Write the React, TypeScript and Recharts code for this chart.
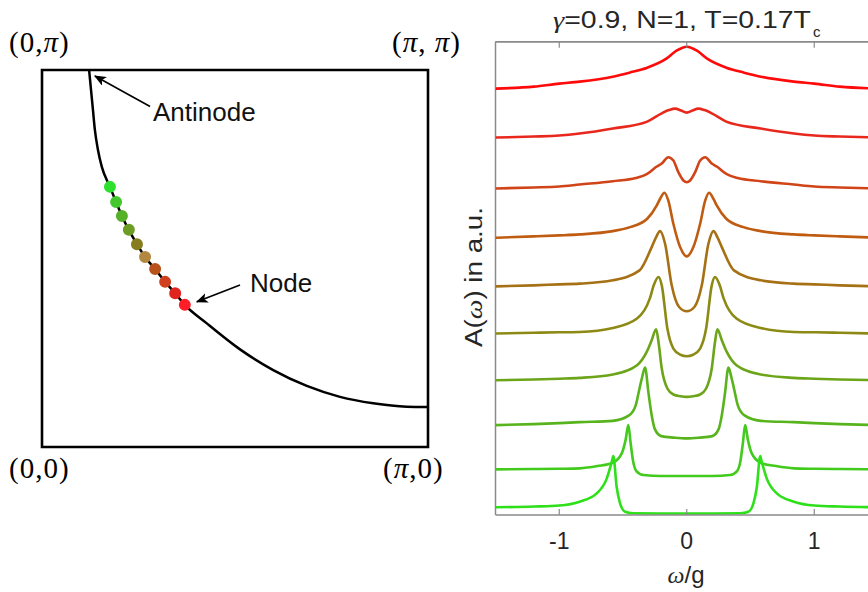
import React from "react"
import {
  ComposedChart,
  LineChart,
  Line,
  Scatter,
  Cell,
  XAxis,
  YAxis,
  ZAxis,
  ReferenceArea,
  ReferenceLine,
} from "recharts"

// Fermi surface arc in the first quadrant, (kx, ky) in units of pi
const fermiArc: [number, number][] = [
  [0.122, 1.0], [0.127, 0.947], [0.132, 0.894], [0.137, 0.841], [0.145, 0.788],
  [0.155, 0.743], [0.176, 0.69], [0.192, 0.65], [0.207, 0.613], [0.225, 0.576],
  [0.246, 0.538], [0.267, 0.504], [0.293, 0.472], [0.319, 0.438], [0.345, 0.408],
  [0.37, 0.377], [0.427, 0.328], [0.513, 0.259], [0.599, 0.204], [0.686, 0.162],
  [0.772, 0.133], [0.858, 0.116], [0.945, 0.107], [1.0, 0.106],
]

// k points where the spectra are taken, antinode side -> node
const kPoints: [number, number][] = [
  [0.176, 0.69], [0.192, 0.65], [0.207, 0.613], [0.225, 0.576], [0.246, 0.538],
  [0.267, 0.504], [0.293, 0.472], [0.319, 0.438], [0.345, 0.408], [0.37, 0.377],
]

// spectra A(w), stacked, top (node) -> bottom (antinode); [w/g, A]
const spec1: [number, number][] = [
  [-1.5, 427], [-1.2, 429], [-1.0, 432], [-0.84, 434], [-0.58, 439], [-0.45, 443], [-0.31, 448],
  [-0.16, 457], [-0.08, 465], [0, 469], [0.08, 465], [0.16, 457], [0.31, 448], [0.45, 443],
  [0.58, 439], [0.84, 434], [1.0, 432], [1.2, 429], [1.5, 427],
]
const spec2: [number, number][] = [
  [-1.5, 378], [-1.2, 379], [-1.0, 380], [-0.84, 382], [-0.58, 387], [-0.31, 394], [-0.2, 402],
  [-0.14, 405.5], [-0.09, 407], [-0.045, 405], [0, 403], [0.045, 405], [0.09, 407], [0.14, 405.5],
  [0.2, 402], [0.31, 394], [0.58, 387], [0.84, 382], [1.0, 380], [1.2, 379], [1.5, 378],
]
const spec3: [number, number][] = [
  [-1.5, 327], [-1.2, 328], [-1.0, 329], [-0.84, 331], [-0.58, 334.3], [-0.4, 337.5], [-0.31, 341.7],
  [-0.235, 349], [-0.196, 352], [-0.145, 358.3], [-0.105, 355], [-0.066, 343.3], [-0.026, 335],
  [0, 333.3], [0.026, 335], [0.066, 343.3], [0.105, 355], [0.145, 358.3], [0.196, 352],
  [0.235, 349], [0.31, 341.7], [0.4, 337.5], [0.58, 334.3], [0.84, 331], [1.0, 329], [1.2, 328], [1.5, 327],
]
const spec4: [number, number][] = [
  [-1.5, 277.7], [-1.2, 279], [-1.0, 280], [-0.84, 281], [-0.58, 284.3], [-0.445, 288.3], [-0.31, 296.7],
  [-0.235, 310], [-0.209, 316.7], [-0.175, 322.7], [-0.145, 315], [-0.105, 291.7], [-0.052, 268.3],
  [0, 259], [0.052, 268.3], [0.105, 291.7], [0.145, 315], [0.175, 322.7], [0.209, 316.7],
  [0.235, 310], [0.31, 296.7], [0.445, 288.3], [0.58, 284.3], [0.84, 281], [1.0, 280], [1.2, 279], [1.5, 277.7],
]
const spec5: [number, number][] = [
  [-1.5, 229], [-1.2, 230], [-1.0, 231], [-0.84, 231.7], [-0.58, 235], [-0.37, 245], [-0.275, 268.3],
  [-0.24, 278.3], [-0.21, 284.3], [-0.17, 271.7], [-0.118, 230], [-0.06, 208.3], [0, 204],
  [0.06, 208.3], [0.118, 230], [0.17, 271.7], [0.21, 284.3], [0.24, 278.3], [0.275, 268.3],
  [0.37, 245], [0.58, 235], [0.84, 231.7], [1.0, 231], [1.2, 230], [1.5, 229],
]
const spec6: [number, number][] = [
  [-1.5, 181.7], [-1.2, 182.5], [-1.0, 183], [-0.84, 183.3], [-0.58, 187.3], [-0.39, 196.7], [-0.29, 216.7],
  [-0.256, 231], [-0.222, 238.3], [-0.196, 230], [-0.152, 186.7], [-0.105, 166.7], [-0.05, 160.5],
  [0, 159], [0.05, 160.5], [0.105, 166.7], [0.152, 186.7], [0.196, 230], [0.222, 238.3],
  [0.256, 231], [0.29, 216.7], [0.39, 196.7], [0.58, 187.3], [0.84, 183.3], [1.0, 183], [1.2, 182.5], [1.5, 181.7],
]
const spec7: [number, number][] = [
  [-1.5, 135], [-1.2, 135.7], [-1.0, 136.5], [-0.84, 137.3], [-0.58, 140.7], [-0.39, 150], [-0.314, 163.3],
  [-0.275, 175], [-0.24, 186], [-0.22, 171.7], [-0.196, 146.7], [-0.152, 126.7], [-0.105, 120.7],
  [-0.05, 119], [0, 118.3], [0.05, 119], [0.105, 120.7], [0.152, 126.7], [0.196, 146.7], [0.22, 171.7],
  [0.24, 186], [0.275, 175], [0.314, 163.3], [0.39, 150], [0.58, 140.7], [0.84, 137.3], [1.0, 136.5],
  [1.2, 135.7], [1.5, 135],
]
const spec8: [number, number][] = [
  [-1.5, 90], [-1.2, 91], [-1.0, 92], [-0.84, 93], [-0.58, 94.3], [-0.45, 100], [-0.4, 110], [-0.37, 127],
  [-0.35, 138], [-0.327, 147.7], [-0.3, 122], [-0.275, 100], [-0.25, 86], [-0.2, 79], [-0.1, 77.5],
  [0, 76.7], [0.1, 77.5], [0.2, 79], [0.25, 86], [0.275, 100], [0.3, 122], [0.327, 147.7], [0.35, 138],
  [0.37, 127], [0.4, 110], [0.45, 100], [0.58, 94.3], [0.84, 93], [1.0, 92], [1.2, 91], [1.5, 90],
]
const spec9: [number, number][] = [
  [-1.5, 45.7], [-1.2, 46], [-1.0, 46.3], [-0.84, 46.7], [-0.7, 49], [-0.58, 52.3], [-0.51, 61.7],
  [-0.48, 75], [-0.458, 90], [-0.44, 71.7], [-0.42, 53.3], [-0.395, 44], [-0.34, 40], [-0.2, 39],
  [0, 39], [0.2, 39], [0.34, 40], [0.395, 44], [0.42, 53.3], [0.44, 71.7], [0.458, 90], [0.48, 75],
  [0.51, 61.7], [0.58, 52.3], [0.7, 49], [0.84, 46.7], [1.0, 46.3], [1.2, 46], [1.5, 45.7],
]
const spec10: [number, number][] = [
  [-1.5, 7.7], [-1.2, 8.5], [-1.0, 9.5], [-0.84, 13.3], [-0.706, 21.7], [-0.627, 36.7], [-0.588, 53.3],
  [-0.576, 59], [-0.55, 28.3], [-0.523, 11.7], [-0.484, 3.3], [-0.42, 1.7], [-0.2, 1.5], [0, 1.5],
  [0.2, 1.5], [0.42, 1.7], [0.484, 3.3], [0.523, 11.7], [0.55, 28.3], [0.576, 59], [0.588, 53.3],
  [0.627, 36.7], [0.706, 21.7], [0.84, 13.3], [1.0, 9.5], [1.2, 8.5], [1.5, 7.7],
]

const spectra = [spec1, spec2, spec3, spec4, spec5, spec6, spec7, spec8, spec9, spec10]
const omegaTicks = [-1, 0, 1]

const dotColors = [
  "#2ee02e", "#44c82e", "#56b028", "#6c9c24", "#867e1e",
  "#b2883e", "#b8521a", "#d0401e", "#e0241e", "#ff1e28",
]
const curveColors = [
  "#ff0a0a", "#e8281c", "#d04418", "#c05c12", "#a67014",
  "#8c8a14", "#6ca41a", "#58b41c", "#42ca1c", "#2ee01a",
]

const axisGray = "#8a8a8a"
const sans = "'Liberation Sans', Arial, sans-serif"
const serif = "'Liberation Serif', 'Times New Roman', serif"

const arcData = fermiArc.map(([kx, ky]) => ({ kx, ky }))
const dotData = kPoints.map(([kx, ky]) => ({ kx, ky }))
const specData = spectra.map((s) => s.map(([w, a]) => ({ w, a })))

function Arrow(p: any) {
  return (
    <line x1={p.x1} y1={p.y1} x2={p.x2} y2={p.y2} stroke="#000" strokeWidth={1.6} markerEnd="url(#arrowHead)" />
  )
}

function ZonePanel() {
  return (
    <ComposedChart width={440} height={480} margin={{ top: 70, right: 12, bottom: 33, left: 42 }}>
      <defs>
        <marker id="arrowHead" viewBox="0 0 12 10" refX="11" refY="5" markerWidth="12" markerHeight="10"
          markerUnits="userSpaceOnUse" orient="auto">
          <path d="M0,0 L12,5 L0,10 L3,5 z" fill="#000" />
        </marker>
      </defs>
      <XAxis type="number" dataKey="kx" domain={[0, 1]} hide allowDataOverflow />
      <YAxis type="number" dataKey="ky" domain={[0, 1]} hide allowDataOverflow />
      <ZAxis range={[113, 113]} />
      <ReferenceArea x1={0} x2={1} y1={0} y2={1} fill="none" stroke="#000" strokeWidth={2.6} ifOverflow="visible" />
      <Line data={arcData} dataKey="ky" type="monotone" stroke="#000" strokeWidth={2.5} dot={false}
        isAnimationActive={false} />
      <Scatter data={dotData} dataKey="ky" isAnimationActive={false}>
        {dotData.map((_, i) => (
          <Cell key={i} fill={dotColors[i]} />
        ))}
      </Scatter>
      <ReferenceLine segment={[{ x: 0.28, y: 0.903 }, { x: 0.137, y: 0.984 }]} ifOverflow="visible" shape={Arrow} />
      <ReferenceLine segment={[{ x: 0.513, y: 0.43 }, { x: 0.401, y: 0.385 }]} ifOverflow="visible" shape={Arrow} />
    </ComposedChart>
  )
}

function SpectraPanel() {
  return (
    <LineChart width={460} height={592} margin={{ top: 35.7, right: 22, bottom: 47, left: 55.5 }}>
      <XAxis type="number" dataKey="w" domain={[-1.5, 1.5]} ticks={omegaTicks} allowDataOverflow
        height={30} axisLine={{ stroke: axisGray, strokeWidth: 1.5 }} tickLine={{ stroke: axisGray, strokeWidth: 1.2 }}
        tickSize={-6} tickMargin={24} tick={{ fontSize: 23, fill: "#262626", fontFamily: sans }} />
      <XAxis xAxisId="top" orientation="top" type="number" dataKey="w" domain={[-1.5, 1.5]} ticks={omegaTicks}
        allowDataOverflow height={6} axisLine={{ stroke: axisGray, strokeWidth: 1.5 }}
        tickLine={{ stroke: axisGray, strokeWidth: 1.2 }} tickSize={-6} tickFormatter={() => ""} />
      <YAxis type="number" domain={[0, 474]} hide allowDataOverflow />
      <ReferenceLine x={-1.5} stroke={axisGray} strokeWidth={1.5} ifOverflow="visible" />
      <ReferenceLine y={474} stroke={axisGray} strokeWidth={1.5} ifOverflow="visible" />
      {specData.map((d, i) => (
        <Line key={i} data={d} dataKey="a" type="monotone" stroke={curveColors[i]} strokeWidth={2.6}
          dot={false} isAnimationActive={false} />
      ))}
    </LineChart>
  )
}

export default function App() {
  return (
    <div style={{ position: "fixed", left: 0, top: 0, width: 868, height: 592, overflow: "hidden", background: "#fff" }}>
      <div style={{ position: "absolute", left: 0, top: 0 }}>
        <ZonePanel />
      </div>
      <div style={{ position: "absolute", left: 440, top: 0 }}>
        <SpectraPanel />
      </div>
      <svg width={868} height={592} style={{ position: "absolute", left: 0, top: 0, pointerEvents: "none" }}>
        <g fontFamily={serif} fontSize={29} fill="#000" letterSpacing={1}>
          <text x={9} y={52}>(0,<tspan fontStyle="italic">π</tspan>)</text>
          <text x={392} y={52}>(<tspan fontStyle="italic">π</tspan>, <tspan fontStyle="italic">π</tspan>)</text>
          <text x={9} y={478}>(0,0)</text>
          <text x={383} y={478}>(<tspan fontStyle="italic">π</tspan>,0)</text>
        </g>
        <g fontFamily={sans} fontSize={26} fill="#111">
          <text x={153} y={121}>Antinode</text>
          <text x={250} y={292}>Node</text>
        </g>
        <g fontFamily={sans} fill="#262626">
          <text x={553} y={28} fontSize={23} textLength={258} lengthAdjust="spacingAndGlyphs">
            <tspan fontStyle="italic" fontFamily={serif}>γ</tspan>=0.9, N=1, T=0.17T
          </text>
          <text x={813} y={37} fontSize={15}>c</text>
          <text x={686} y={583} fontSize={24} textAnchor="middle">
            <tspan fontStyle="italic" fontFamily={serif}>ω</tspan>/g
          </text>
          <text transform="translate(482,277) rotate(-90)" fontSize={23} textAnchor="middle" textLength={140}
            lengthAdjust="spacingAndGlyphs">
            A(<tspan fontStyle="italic" fontFamily={serif}>ω</tspan>) in a.u.
          </text>
        </g>
      </svg>
    </div>
  )
}
